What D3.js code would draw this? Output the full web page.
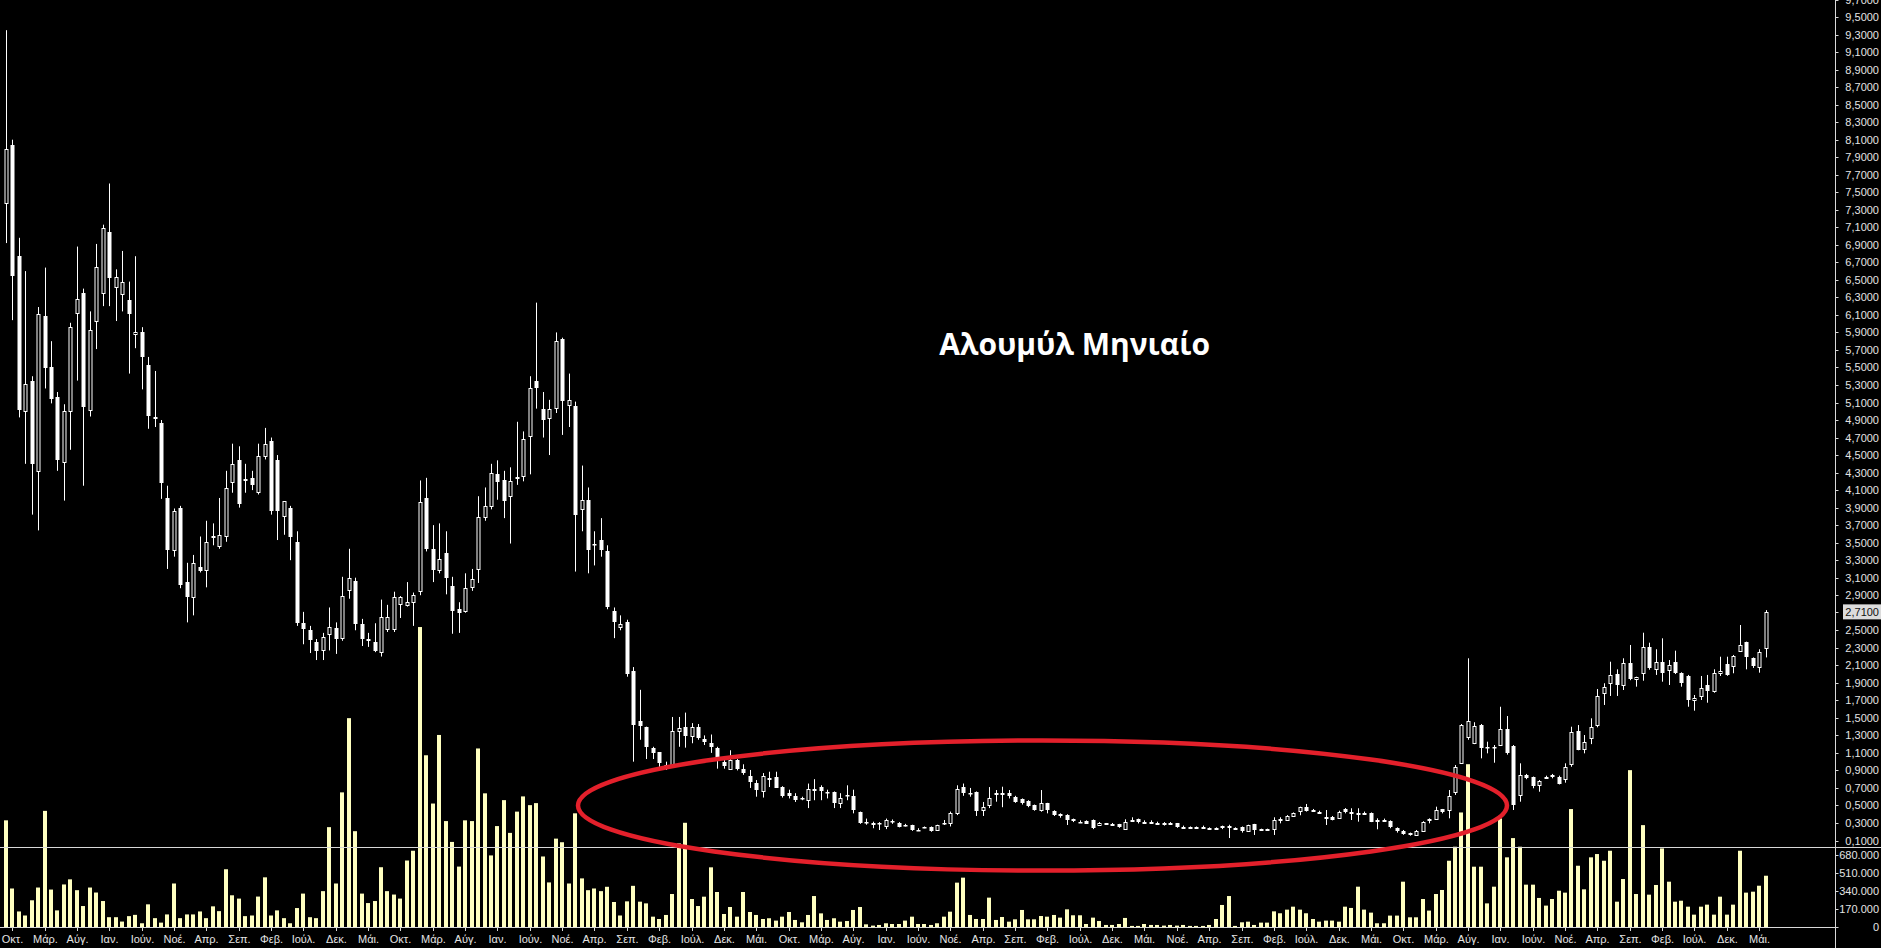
<!DOCTYPE html>
<html><head><meta charset="utf-8">
<script src="https://cdn.jsdelivr.net/npm/d3@7/dist/d3.min.js"></script>
<style>html,body{margin:0;padding:0;background:#000;overflow:hidden}</style>
</head><body>
<svg id="c" width="1881" height="948"></svg>
<script>
const titleText = "Αλουμύλ Μηνιαίο";
const monthLabels = ["Οκτ.","Μάρ.","Αύγ.","Ιαν.","Ιούν.","Νοέ.","Απρ.","Σεπ.","Φεβ.","Ιούλ.","Δεκ.","Μάι.",
 "Οκτ.","Μάρ.","Αύγ.","Ιαν.","Ιούν.","Νοέ.","Απρ.","Σεπ.","Φεβ.","Ιούλ.","Δεκ.","Μάι.",
 "Οκτ.","Μάρ.","Αύγ.","Ιαν.","Ιούν.","Νοέ.","Απρ.","Σεπ.","Φεβ.","Ιούλ.","Δεκ.","Μάι.",
 "Νοέ.","Απρ.","Σεπ.","Φεβ.","Ιούλ.","Δεκ.","Μάι.","Οκτ.","Μάρ.","Αύγ.","Ιαν.","Ιούν.",
 "Νοέ.","Απρ.","Σεπ.","Φεβ.","Ιούλ.","Δεκ.","Μάι."];
const volumeTicks = [0, 170000, 340000, 510000, 680000];
const lastPrice = 2.71;

const open = [7.37,8.04,6.77,5.00,5.35,4.32,6.09,5.50,5.16,4.42,
5.00,6.12,6.35,5.02,6.03,6.35,7.05,6.42,6.34,6.27,
5.88,5.90,5.53,4.92,4.87,4.01,3.42,3.89,3.05,2.88,
3.22,3.19,3.57,3.47,3.57,4.20,4.44,4.22,4.24,4.08,
4.49,4.66,4.44,3.80,3.89,3.51,2.58,2.50,2.37,2.27,
2.46,2.53,2.41,2.96,3.06,2.57,2.40,2.37,2.25,2.51,
2.51,2.80,2.79,2.82,2.94,4.01,3.43,3.19,3.38,3.01,
2.74,2.72,3.00,3.20,3.80,3.91,4.28,4.22,4.03,4.24,
4.26,4.72,5.35,5.03,4.93,5.03,5.82,5.07,5.06,3.89,
3.99,3.48,3.53,3.40,2.72,2.54,2.59,2.03,1.46,1.39,
1.16,1.11,0.96,0.96,1.35,1.39,1.29,1.39,1.26,1.21,
1.16,1.00,0.92,1.02,0.92,0.84,0.76,0.67,0.81,0.83,
0.71,0.64,0.61,0.585,0.56,0.685,0.71,0.655,0.65,0.525,
0.62,0.61,0.43,0.31,0.30,0.298,0.26,0.326,0.30,0.28,
0.28,0.225,0.251,0.25,0.22,0.303,0.30,0.41,0.71,0.646,
0.657,0.448,0.505,0.639,0.645,0.646,0.60,0.57,0.554,0.505,
0.448,0.525,0.44,0.40,0.39,0.342,0.316,0.326,0.334,0.277,
0.296,0.288,0.288,0.239,0.334,0.342,0.315,0.315,0.303,0.303,
0.296,0.296,0.258,0.251,0.251,0.258,0.239,0.239,0.265,0.265,
0.239,0.251,0.212,0.288,0.228,0.228,0.228,0.342,0.334,0.38,
0.429,0.486,0.448,0.429,0.372,0.372,0.365,0.456,0.429,0.417,
0.417,0.417,0.334,0.334,0.323,0.239,0.212,0.189,0.163,0.212,
0.342,0.342,0.456,0.456,0.657,0.988,1.285,1.216,1.418,1.171,
1.171,1.19,1.369,1.179,0.62,0.848,0.821,0.733,0.828,0.848,
0.828,0.799,0.981,1.353,1.152,1.267,1.418,1.787,1.901,2.0,
1.867,2.123,1.94,2.009,2.305,2.066,2.141,2.046,2.141,2.009,
1.978,1.704,1.75,1.875,1.81,2.016,2.115,2.092,2.267,2.363,
2.18,2.084,2.294];

const high = [9.35,8.10,6.98,6.60,5.40,6.19,6.64,5.80,5.22,5.08,
6.01,6.88,6.40,6.14,6.91,7.13,7.60,6.62,6.83,6.48,
6.77,5.96,5.62,5.46,4.90,4.15,3.89,3.92,3.27,3.36,
3.57,3.75,3.72,4.01,4.32,4.63,4.60,4.40,4.32,4.63,
4.81,4.70,4.50,3.97,3.92,3.63,2.71,2.55,2.40,2.47,
2.76,2.59,3.11,3.43,3.10,2.63,2.47,2.58,2.85,2.79,
2.94,2.89,3.05,2.93,4.21,4.24,3.70,3.72,3.63,3.11,
2.82,3.15,3.20,4.03,4.13,4.40,4.44,4.32,4.36,4.88,
4.77,5.40,6.24,5.22,5.13,5.90,5.84,5.43,5.11,4.38,
4.13,3.63,3.78,3.47,2.76,2.67,2.62,2.08,1.82,1.40,
1.17,1.11,1.00,1.51,1.51,1.56,1.44,1.43,1.30,1.31,
1.17,1.04,1.13,1.03,0.97,0.905,0.79,0.87,0.885,0.885,
0.72,0.68,0.64,0.60,0.75,0.80,0.73,0.68,0.66,0.64,
0.73,0.68,0.43,0.35,0.315,0.31,0.35,0.34,0.31,0.29,
0.28,0.24,0.26,0.26,0.28,0.334,0.43,0.73,0.75,0.70,
0.66,0.54,0.71,0.676,0.714,0.676,0.61,0.58,0.56,0.51,
0.676,0.53,0.445,0.41,0.40,0.35,0.33,0.33,0.34,0.31,
0.30,0.30,0.29,0.342,0.365,0.35,0.33,0.33,0.315,0.31,
0.31,0.30,0.27,0.26,0.26,0.27,0.25,0.25,0.27,0.28,
0.25,0.26,0.28,0.29,0.235,0.235,0.365,0.365,0.39,0.42,
0.486,0.517,0.46,0.44,0.448,0.38,0.44,0.47,0.468,0.468,
0.43,0.42,0.353,0.35,0.33,0.25,0.22,0.19,0.22,0.32,
0.353,0.486,0.46,0.676,0.962,1.43,2.18,1.45,1.43,1.228,
1.19,1.627,1.521,1.19,0.981,0.86,0.83,0.79,0.84,0.86,
0.84,0.981,1.399,1.418,1.304,1.495,1.829,1.895,2.141,2.054,
2.18,2.332,1.97,2.472,2.358,2.283,2.408,2.16,2.267,2.02,
1.99,1.761,1.978,1.99,2.054,2.198,2.198,2.218,2.56,2.37,
2.19,2.283,2.73];

const low = [6.92,6.04,4.93,4.40,3.82,3.64,5.26,5.09,4.32,3.98,
4.56,5.35,4.15,4.94,5.71,6.20,6.20,6.03,6.14,5.43,
5.72,5.25,4.80,4.82,4.00,3.20,3.34,2.98,2.59,2.67,
3.16,2.99,3.47,3.43,3.51,4.07,3.90,4.07,4.10,4.05,
4.45,3.82,3.53,3.59,3.30,2.55,2.34,2.24,2.16,2.16,
2.27,2.23,2.38,2.86,2.50,2.32,2.31,2.25,2.20,2.48,
2.48,2.64,2.77,2.55,2.90,3.40,3.05,3.15,2.91,2.46,
2.47,2.70,2.95,3.04,3.75,3.88,3.99,3.78,3.49,4.16,
4.20,4.28,5.03,4.70,4.50,4.98,4.73,4.82,3.17,3.63,
3.15,3.24,3.34,2.74,2.41,2.50,1.97,1.00,1.25,1.03,
1.03,0.94,0.905,0.94,1.17,1.16,1.21,1.25,1.19,1.10,
0.92,0.92,0.905,0.90,0.85,0.70,0.60,0.59,0.71,0.70,
0.59,0.58,0.54,0.56,0.47,0.56,0.56,0.58,0.47,0.47,
0.56,0.41,0.29,0.28,0.24,0.22,0.23,0.29,0.25,0.26,
0.21,0.21,0.24,0.20,0.21,0.277,0.26,0.39,0.61,0.60,
0.38,0.38,0.47,0.543,0.48,0.58,0.53,0.51,0.48,0.44,
0.429,0.41,0.38,0.36,0.277,0.31,0.30,0.29,0.23,0.27,
0.29,0.28,0.245,0.235,0.32,0.295,0.30,0.305,0.29,0.27,
0.285,0.245,0.25,0.24,0.24,0.25,0.23,0.23,0.23,0.128,
0.23,0.19,0.20,0.163,0.22,0.22,0.163,0.296,0.33,0.37,
0.388,0.43,0.44,0.42,0.277,0.33,0.36,0.41,0.334,0.315,
0.40,0.31,0.228,0.32,0.24,0.19,0.165,0.155,0.155,0.205,
0.296,0.335,0.41,0.353,0.62,0.98,1.25,1.20,1.038,1.095,
0.988,1.18,1.08,0.448,0.543,0.80,0.696,0.657,0.82,0.81,
0.74,0.76,0.942,1.13,1.095,1.20,1.392,1.647,1.75,1.75,
1.818,1.93,1.856,1.924,2.05,1.99,1.913,1.875,2.0,1.856,
1.627,1.582,1.704,1.673,1.787,1.978,1.98,2.009,2.255,2.054,
2.07,2.016,2.19];

const close = [7.99,6.54,5.01,5.31,4.40,6.11,5.50,5.13,4.44,5.00,
5.96,6.28,5.05,5.93,6.65,7.09,6.53,6.53,6.48,6.11,
5.90,5.62,4.95,4.93,4.19,3.42,3.86,3.01,2.88,3.27,
3.18,3.51,3.58,3.59,4.12,4.40,3.94,4.23,4.16,4.49,
4.63,3.86,3.86,3.97,3.56,2.58,2.51,2.39,2.27,2.42,
2.54,2.41,2.89,3.10,2.57,2.40,2.40,2.27,2.65,2.65,
2.88,2.88,2.82,2.90,3.96,3.43,3.19,3.31,3.10,2.72,
2.70,2.98,3.09,3.79,3.92,4.29,4.19,3.98,4.20,4.25,
4.68,5.27,5.27,4.90,5.03,5.80,5.11,5.13,3.82,3.99,
3.42,3.47,3.42,2.76,2.60,2.57,2.00,1.41,1.40,1.16,
1.10,0.98,0.955,1.35,1.38,1.29,1.39,1.27,1.23,1.17,
1.05,0.96,1.02,0.92,0.87,0.77,0.68,0.84,0.815,0.71,
0.61,0.61,0.57,0.58,0.69,0.69,0.67,0.653,0.52,0.58,
0.616,0.45,0.30,0.307,0.28,0.296,0.33,0.325,0.26,0.277,
0.22,0.223,0.25,0.21,0.277,0.302,0.41,0.685,0.64,0.645,
0.44,0.486,0.58,0.64,0.646,0.608,0.543,0.525,0.494,0.448,
0.525,0.44,0.391,0.372,0.334,0.315,0.315,0.296,0.239,0.303,
0.296,0.288,0.251,0.315,0.334,0.303,0.315,0.315,0.303,0.277,
0.296,0.251,0.258,0.251,0.251,0.258,0.239,0.239,0.239,0.265,
0.239,0.20,0.277,0.22,0.228,0.228,0.334,0.342,0.38,0.417,
0.479,0.44,0.448,0.429,0.372,0.342,0.429,0.417,0.429,0.417,
0.417,0.315,0.334,0.334,0.251,0.20,0.174,0.163,0.212,0.315,
0.342,0.448,0.417,0.611,0.942,1.418,1.464,1.407,1.152,1.17,
1.17,1.369,1.095,0.505,0.848,0.81,0.714,0.783,0.828,0.821,
0.753,0.936,1.342,1.141,1.228,1.392,1.75,1.856,1.989,1.875,
2.123,1.94,1.963,2.305,2.066,2.141,2.016,2.103,2.016,1.895,
1.704,1.73,1.837,1.81,2.016,2.038,1.99,2.206,2.332,2.187,
2.084,2.252,2.71];

// volume in thousands of shares
const volumeK = [1006,365,149,111,254,374,1095,355,159,403,
451,349,200,374,327,247,95,95,54,105,
117,38,216,86,44,121,412,86,121,121,
149,86,197,152,546,301,270,105,111,289,
470,111,159,86,38,181,317,95,86,340,
942,412,1269,1967,904,317,228,247,565,340,
308,270,628,720,2824,1618,1164,1809,999,803,
571,1006,999,1682,1260,676,952,1196,888,1088,
1231,1149,1168,666,422,834,800,412,1072,460,
349,365,340,381,238,111,244,390,241,225,
100,78,116,313,789,983,266,200,288,564,
332,125,191,100,332,144,116,78,85,63,
100,144,69,47,116,294,131,69,85,53,
59,163,191,28,16,22,38,31,31,63,
100,31,31,22,38,100,147,420,467,116,
78,78,279,69,97,53,75,163,75,75,
106,100,116,91,169,113,113,31,91,59,
22,22,31,88,13,13,31,22,22,16,
22,16,22,13,13,13,22,78,210,294,
13,47,53,22,44,44,150,132,166,194,
166,132,78,53,63,63,53,194,182,382,
166,138,38,38,110,110,429,94,94,266,
157,313,351,626,758,1080,1534,570,570,225,
382,1024,658,839,758,401,401,276,204,266,
344,326,1112,579,357,658,689,626,720,241,
454,1478,313,961,307,398,742,429,241,250,
194,119,194,213,119,288,119,213,720,326,
335,391,485];

const bars = open.map((o, i) => ({i, o, h: high[i], l: low[i], c: close[i], v: volumeK[i] * 1000}));
const N = bars.length;

const svg = d3.select("#c");
svg.append("rect").attr("width", 1881).attr("height", 948).attr("fill", "#000");

const x = d3.scaleLinear().domain([0, N - 1]).range([5.73, 5.73 + 6.47 * (N - 1)]);
const y = d3.scaleLinear().domain([0.1, 9.5]).range([840.5, 17.06]);
const yv = d3.scaleLinear().domain([0, 680000]).range([927.3, 855]);
const axisX = 1835.5;
const cx = i => Math.round(x(i));

// volume bars
svg.append("g").selectAll("rect").data(bars).join("rect")
  .attr("x", d => cx(d.i) - 2).attr("width", 4)
  .attr("y", d => yv(d.v)).attr("height", d => yv(0) - yv(d.v))
  .attr("fill", "#ffffc0");

// separator and baseline
svg.append("line").attr("x1", 0).attr("x2", 1881).attr("y1", 847.5).attr("y2", 847.5)
  .attr("stroke", "#d8d8d8").attr("stroke-width", 1);
svg.append("line").attr("x1", 0).attr("x2", axisX).attr("y1", 927.5).attr("y2", 927.5)
  .attr("stroke", "#d8d8d8").attr("stroke-width", 1);

// candles
const cg = svg.append("g");
cg.selectAll("line").data(bars).join("line")
  .attr("x1", d => cx(d.i) + 0.5).attr("x2", d => cx(d.i) + 0.5)
  .attr("y1", d => y(d.h)).attr("y2", d => y(d.l))
  .attr("stroke", "#fff").attr("stroke-width", 1);
cg.selectAll("rect").data(bars).join("rect")
  .attr("x", d => d.c >= d.o ? cx(d.i) - 1 : cx(d.i) - 1.5)
  .attr("width", d => d.c >= d.o ? 3 : 4)
  .attr("y", d => Math.round(y(Math.max(d.o, d.c))) + (d.c >= d.o ? 0.5 : 0))
  .attr("height", d => Math.max(Math.round(Math.abs(y(d.o) - y(d.c))), d.c >= d.o ? 1 : 1.5))
  .attr("fill", d => d.c >= d.o ? "#000" : "#fff")
  .attr("stroke", d => d.c >= d.o ? "#fff" : "none")
  .attr("stroke-width", 1);

// price axis
const priceTicks = d3.range(1, 98, 2).map(k => k / 10);
const fmtP = d => d.toFixed(4).replace(".", ",");
const fmtV = d => d === 0 ? "0" : d3.format(",")(d / 1000).replace(/,/g, ".") + ".000";
const axG = svg.append("g");
axG.append("line").attr("x1", axisX).attr("x2", axisX).attr("y1", 0).attr("y2", 948)
  .attr("stroke", "#d8d8d8");
const pT = axG.append("g").selectAll("g").data(priceTicks.filter(p => Math.abs(p - lastPrice) > 0.05)).join("g")
  .attr("transform", d => `translate(0,${Math.round(y(d)) + 0.5})`);
pT.append("line").attr("x1", axisX).attr("x2", axisX + 3).attr("stroke", "#d8d8d8");
pT.append("text").attr("x", 1879).attr("dy", "0.35em").attr("text-anchor", "end")
  .attr("fill", "#e4e4e4").style("font", "11px 'Liberation Sans', Arial, sans-serif").text(fmtP);

const vT = axG.append("g").selectAll("g").data(volumeTicks).join("g")
  .attr("transform", d => `translate(0,${Math.round(yv(d)) + 0.5})`);
vT.append("line").attr("x1", axisX).attr("x2", axisX + 3).attr("stroke", "#d8d8d8");
vT.append("text").attr("x", 1879).attr("dy", "0.35em").attr("text-anchor", "end")
  .attr("fill", "#e4e4e4").style("font", "11px 'Liberation Sans', Arial, sans-serif").text(fmtV);

// last price box
const ly = y(lastPrice);
axG.append("line").attr("x1", axisX).attr("x2", axisX + 3).attr("y1", Math.round(ly) + 0.5).attr("y2", Math.round(ly) + 0.5).attr("stroke", "#d8d8d8");
axG.append("rect").attr("x", 1843).attr("y", ly - 7.5).attr("width", 38).attr("height", 15).attr("fill", "#dcdcdc");
axG.append("text").attr("x", 1879).attr("y", ly).attr("dy", "0.35em").attr("text-anchor", "end")
  .attr("fill", "#111").style("font", "11px 'Liberation Sans', Arial, sans-serif").text(fmtP(lastPrice));

// month axis
const mT = svg.append("g").selectAll("g").data(monthLabels).join("g")
  .attr("transform", (d, k) => `translate(${cx(1 + 5 * k) + 0.5},0)`);
mT.append("line").attr("y1", 927.5).attr("y2", 931).attr("stroke", "#d8d8d8");
mT.append("text").attr("y", 939).attr("dy", "0.35em").attr("text-anchor", "middle")
  .attr("fill", "#e4e4e4").style("font", "11px 'Liberation Sans', Arial, sans-serif").text(d => d);

// title
svg.append("text").attr("x", 1210).attr("y", 355).attr("text-anchor", "end")
  .attr("fill", "#fff").style("font", "bold 30px 'Open Sans', sans-serif").text(titleText);

// red ellipse annotation
svg.append("ellipse").attr("cx", 1042.5).attr("cy", 805.5).attr("rx", 464.5).attr("ry", 65)
  .attr("fill", "none").attr("stroke", "#e3202b").attr("stroke-width", 4.5);
</script>
</body></html>
